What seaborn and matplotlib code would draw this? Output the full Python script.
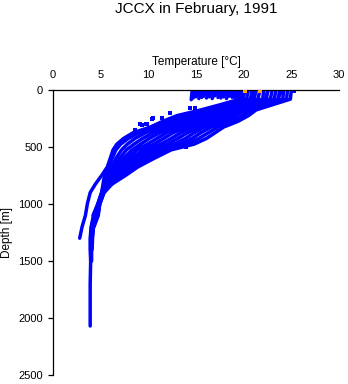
import matplotlib
matplotlib.use("Agg")
import matplotlib.pyplot as plt
import numpy as np
import pandas as pd
import seaborn as sns

sns.set_style("ticks")
plt.rcParams["font.family"] = ["Liberation Sans", "DejaVu Sans"]
plt.rcParams["text.color"] = "black"
plt.rcParams["axes.labelcolor"] = "black"

# depth levels [m] used by the deep casts
depth_grid = [0, 80, 130, 175, 225, 275, 325, 375, 425, 475, 525, 600, 675,
              750, 825, 900, 1000, 1100, 1200, 1300, 1400, 1500, 1700, 2070]

# deep casts, temperature [C] at depth_grid (each cast stops at its last value)
cast_a = [20.0, 19.6, 17.5, 15.5, 13.0, 11.5, 10.2, 8.4, 7.4, 6.7, 6.3, 6.0, 5.7, 5.1, 4.45, 3.9, 3.6, 3.4, 3.05, 2.8]
cast_b = [20.5, 20.3, 18.0, 16.0, 13.6, 12.0, 10.7, 9.0, 7.9, 7.1, 6.6, 6.2, 5.9, 5.4, 5.25, 5.1, 4.7, 4.2]
cast_c = [20.9, 20.7, 18.5, 16.5, 14.2, 12.7, 11.4, 9.7, 8.6, 7.8, 7.2, 6.6, 6.2, 5.7, 5.35, 5.1, 4.7, 4.25, 4.0, 3.9, 3.9, 3.95]
cast_d = [21.3, 21.1, 18.9, 17.0, 14.9, 13.3, 12.0, 10.5, 9.4, 8.5, 7.7, 7.0, 6.4, 6.0, 5.45, 5.15, 4.75, 4.3, 4.05, 3.95]
cast_e = [21.7, 21.5, 19.4, 17.4, 15.5, 14.0, 12.7, 11.2, 10.1, 9.2, 8.3, 7.4, 6.7, 6.1, 5.5, 5.15, 4.75, 4.35, 4.05, 3.95, 3.95]
cast_f = [22.1, 22.0, 19.8, 17.9, 16.1, 14.7, 13.3, 11.9, 10.9, 9.9, 8.8, 7.8, 7.0, 6.3, 5.6, 5.2, 4.8, 4.4, 4.1]
cast_g = [22.5, 22.4, 20.3, 18.4, 16.7, 15.4, 14.0, 12.6, 11.6, 10.6, 9.4, 8.2, 7.3, 6.5, 5.7, 5.2, 4.8, 4.45, 4.1, 4.0, 4.0, 4.0]
cast_h = [23.0, 22.8, 20.7, 18.9, 17.4, 16.0, 14.6, 13.4, 12.4, 11.3, 9.9, 8.5, 7.5, 6.7, 5.8, 5.25, 4.8, 4.5, 4.15, 4.05, 4.0, 3.95, 3.9, 3.9]
cast_i = [23.4, 23.2, 21.2, 19.4, 18.0, 16.7, 15.3, 14.1, 13.1, 12.0, 10.5, 8.9, 7.8, 6.9, 5.9, 5.25, 4.85, 4.55, 4.15, 4.05, 4.0]
cast_j = [23.8, 23.6, 21.6, 19.9, 18.6, 17.4, 15.9, 14.8, 13.9, 12.7, 11.0, 9.3, 8.1, 7.1, 5.9, 5.3, 4.85, 4.6, 4.2, 4.1, 4.05, 4.05]
cast_k = [24.2, 24.1, 22.1, 20.3, 19.2, 18.1, 16.6, 15.5, 14.6, 13.4, 11.6, 9.7, 8.4, 7.2, 6.0, 5.3, 4.9, 4.65, 4.2, 4.1]
cast_l = [24.6, 24.5, 22.5, 20.8, 19.9, 18.7, 17.3, 16.3, 15.3, 14.1, 12.1, 10.1, 8.6, 7.4, 6.1, 5.35, 4.9, 4.7, 4.25, 4.15, 4.1]
cast_m = [25.0, 24.9, 23.0, 21.3, 20.5, 19.4, 17.9, 17.0, 16.1, 14.8, 12.4, 10.6, 8.9, 7.6, 6.2, 5.35, 4.9, 4.75, 4.3]

# shallow (shelf) casts: surface temp, bottom temp, bottom depth
shallow_top = [14.6, 14.9, 15.2, 15.5, 15.8, 16.1, 16.4, 16.7, 17.0, 17.3, 17.6,
               17.9, 18.2, 18.5, 18.8, 19.1, 19.4, 19.7, 20.2, 21.2, 22.6, 24.0]
shallow_bot = [14.5, 14.7, 15.0, 15.3, 15.6, 15.8, 16.1, 16.4, 16.7, 17.0, 17.3,
               17.6, 17.9, 18.2, 18.5, 18.8, 19.1, 19.4, 19.9, 20.9, 22.3, 23.7]
shallow_end = [85, 70, 60, 75, 65, 55, 70, 60, 75, 50, 65,
               70, 60, 75, 55, 65, 70, 60, 75, 65, 70, 60]

# isolated samples
stray_t = [14.4, 14.9, 12.3, 11.4, 10.5, 10.35, 9.9, 9.8, 9.3, 9.1, 8.6, 7.9, 14.0, 25.3]
stray_d = [155, 155, 202, 246, 248, 257, 298, 300, 307, 300, 351, 408, 497, 5]

# flagged samples (orange)
flag_t = [20.1, 21.7]
flag_d = [5, 12]

rows = []
deep = [cast_a, cast_b, cast_c, cast_d, cast_e, cast_f, cast_g,
        cast_h, cast_i, cast_j, cast_k, cast_l, cast_m]
for i, temps in enumerate(deep):
    for d, t in zip(depth_grid, temps):
        rows.append((f"d{i}", t, d))
for i, (t0, t1, d1) in enumerate(zip(shallow_top, shallow_bot, shallow_end)):
    rows.append((f"s{i}", t0, 0))
    rows.append((f"s{i}", t1, d1))
df = pd.DataFrame(rows, columns=["cast", "temp", "depth"])

fig = plt.figure(figsize=(3.48, 3.84), dpi=100)
ax = fig.add_axes([53 / 348, 1 - 375 / 384, 286 / 348, 285 / 384])

sns.lineplot(data=df, x="temp", y="depth", units="cast", estimator=None,
             sort=False, color="#0000ff", lw=2.5, legend=False, ax=ax)
sns.scatterplot(x=stray_t, y=stray_d, marker="s", s=7, color="#0000ff",
                linewidth=0, ax=ax)
sns.scatterplot(x=flag_t, y=flag_d, marker="s", s=7, color="#ffa500",
                linewidth=0, ax=ax, zorder=5)

ax.set_xlim(0, 30)
ax.set_ylim(2500, 0)
ax.set_xticks(range(0, 31, 5))
ax.set_yticks(range(0, 2501, 500))
ax.xaxis.tick_top()
ax.xaxis.set_label_position("top")
sns.despine(ax=ax, top=False, right=True, bottom=True, left=False)
for s in ["top", "left"]:
    ax.spines[s].set_linewidth(0.9)
    ax.spines[s].set_color("black")
ax.tick_params(axis="both", direction="out", length=3.6, width=0.9,
               labelsize=8, colors="black", pad=3.5)
ax.set_xlabel("Temperature [°C]", fontsize=8.5, labelpad=4)
ax.set_ylabel("Depth [m]", fontsize=8.5, labelpad=4)

fig.text(196 / 348, 1 - 9 / 384, "JCCX in February, 1991", ha="center",
         va="center", fontsize=11)

fig.savefig("out.png", dpi=100)
